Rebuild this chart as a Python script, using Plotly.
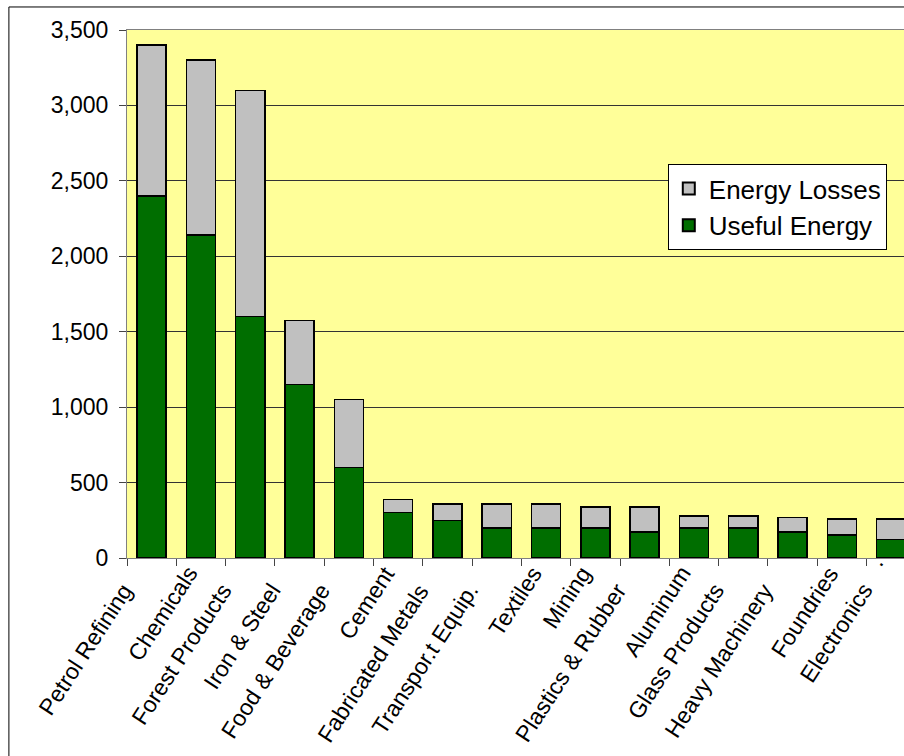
import plotly.graph_objects as go

categories = ["Petrol Refining", "Chemicals", "Forest Products", "Iron & Steel",
              "Food & Beverage", "Cement", "Fabricated Metals", "Transpor.t Equip.",
              "Textiles", "Mining", "Plastics & Rubber", "Aluminum",
              "Glass Products", "Heavy Machinery", "Foundries", "Electronics"]
useful_energy = [2400, 2140, 1600, 1150, 600, 300, 250, 200,
                 200, 200, 173, 200, 200, 173, 151, 122]
total_energy = [3400, 3300, 3100, 1575, 1050, 387, 358, 358,
                358, 338, 338, 279, 279, 268, 259, 259]
energy_losses = [t - u for t, u in zip(total_energy, useful_energy)]
trailing_label = "."
y_ticks = [0, 500, 1000, 1500, 2000, 2500, 3000, 3500]

FONT = "Liberation Sans, Arial, sans-serif"
GREEN = "#006e00"
GRAY = "#C0C0C0"

fig = go.Figure()
fig.add_trace(go.Bar(
    name="Useful Energy", x=categories, y=useful_energy,
    marker=dict(color=GREEN, line=dict(color="black", width=1.5)),
))
fig.add_trace(go.Bar(
    name="Energy Losses", x=categories, y=energy_losses,
    marker=dict(color=GRAY, line=dict(color="black", width=1.5)),
))

# rotated category labels (short labels sit closer to the axis, long ones shifted down-left)
annotations = []
for lab in categories:
    long = len(lab) > 10
    annotations.append(dict(
        x=lab, y=0, xref="x", yref="y", text=lab, showarrow=False,
        textangle=-57, xanchor="right", yanchor="top",
        xshift=-11 if long else 4, yshift=-18 if long else -1,
        font=dict(family=FONT, size=23, color="black"),
    ))
annotations.append(dict(
    x=categories[-1], y=0, xref="x", yref="y", text=trailing_label,
    showarrow=False, textangle=-57, xanchor="right", yanchor="top",
    xshift=0, yshift=9, font=dict(family=FONT, size=23, color="black"),
))

fig.update_layout(
    width=904, height=756,
    margin=dict(l=127, r=0, t=30, b=198, pad=0),
    paper_bgcolor="white",
    plot_bgcolor="#FFFF99",
    barmode="stack",
    bargap=0.41,
    font=dict(family=FONT, size=22, color="black"),
    showlegend=True,
    legend=dict(
        x=0.696, y=0.746, xanchor="left", yanchor="top",
        traceorder="reversed",
        bgcolor="white", bordercolor="black", borderwidth=1,
        font=dict(family=FONT, size=26, color="black"),
        itemsizing="constant", tracegroupgap=0,
    ),
    annotations=annotations,
    shapes=[dict(
        type="rect", xref="paper", yref="paper",
        x0=-0.152, x1=1.2, y0=-0.5, y1=1.0436,
        line=dict(color="black", width=1), fillcolor="rgba(0,0,0,0)", layer="below",
    )],
)
fig.update_xaxes(
    type="category", range=[-0.5, 15.26], showticklabels=False,
    tickson="boundaries", ticks="outside", ticklen=7, tickcolor="#444444",
    showline=True, linecolor="#808080", linewidth=1, mirror=True,
    showgrid=False, zeroline=False,
)
fig.update_yaxes(
    range=[0, 3500], tickmode="array", tickvals=y_ticks,
    tickformat=",", ticks="outside", ticklen=7, tickcolor="#444444",
    ticklabelstandoff=6,
    showline=True, linecolor="#808080", linewidth=1,
    showgrid=True, gridcolor="#333333", gridwidth=1,
    zeroline=False,
    tickfont=dict(family=FONT, size=23, color="black"),
)

fig.write_html("out.html")
